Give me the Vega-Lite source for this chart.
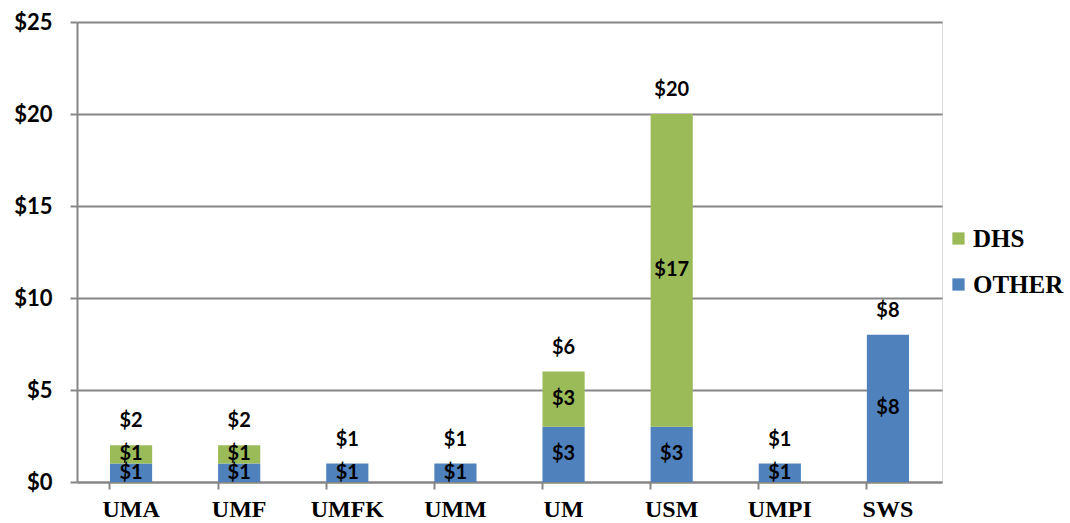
{
  "$schema": "https://vega.github.io/schema/vega-lite/v6.json",
  "width": 865,
  "height": 460,
  "autosize": "none",
  "padding": {"left": 77, "top": 22, "right": 128, "bottom": 41},
  "background": "white",
  "data": {
    "values": [
      {"school": "UMA", "series": "OTHER", "value": 1},
      {"school": "UMA", "series": "DHS", "value": 1},
      {"school": "UMF", "series": "OTHER", "value": 1},
      {"school": "UMF", "series": "DHS", "value": 1},
      {"school": "UMFK", "series": "OTHER", "value": 1},
      {"school": "UMFK", "series": "DHS", "value": 0},
      {"school": "UMM", "series": "OTHER", "value": 1},
      {"school": "UMM", "series": "DHS", "value": 0},
      {"school": "UM", "series": "OTHER", "value": 3},
      {"school": "UM", "series": "DHS", "value": 3},
      {"school": "USM", "series": "OTHER", "value": 3},
      {"school": "USM", "series": "DHS", "value": 17},
      {"school": "UMPI", "series": "OTHER", "value": 1},
      {"school": "UMPI", "series": "DHS", "value": 0},
      {"school": "SWS", "series": "OTHER", "value": 8},
      {"school": "SWS", "series": "DHS", "value": 0}
    ]
  },
  "transform": [
    {"stack": "value", "groupby": ["school"], "sort": [{"field": "series", "order": "descending"}], "as": ["v0", "v1"]},
    {"calculate": "(datum.v0 + datum.v1) / 2", "as": "mid"}
  ],
  "encoding": {
    "x": {
      "field": "school",
      "type": "nominal",
      "sort": null,
      "scale": {"paddingInner": 0.61, "paddingOuter": 0.305},
      "axis": {
        "title": null,
        "labelAngle": 0,
        "labelFont": "Liberation Serif",
        "labelFontWeight": "bold",
        "labelFontSize": 24,
        "labelColor": "black",
        "labelPadding": 8,
        "labelBaseline": "top",
        "bandPosition": 0,
        "tickSize": 7,
        "tickColor": "#868686",
        "tickWidth": 2,
        "domainColor": "#868686",
        "domainWidth": 2,
        "grid": false
      }
    }
  },
  "layer": [
    {
      "mark": {"type": "bar"},
      "encoding": {
        "y": {
          "field": "v0",
          "type": "quantitative",
          "scale": {"domain": [0, 25], "nice": false},
          "axis": {
            "title": null,
            "values": [0, 5, 10, 15, 20, 25],
            "format": "$,.0f",
            "labelFont": "Lato",
            "labelFontWeight": "bold",
            "labelFontSize": 22,
            "labelColor": "black",
            "labelPadding": 18,
            "tickSize": 7,
            "tickColor": "#868686",
            "tickWidth": 2,
            "domainColor": "#868686",
            "domainWidth": 2,
            "grid": true,
            "gridColor": "#868686",
            "gridWidth": 2
          }
        },
        "y2": {"field": "v1"},
        "color": {
          "field": "series",
          "type": "nominal",
          "scale": {"domain": ["DHS", "OTHER"], "range": ["#9BBB59", "#4F81BD"]},
          "legend": {
            "title": null,
            "orient": "none",
            "legendX": 869,
            "legendY": 204,
            "symbolType": "square",
            "symbolSize": 150,
            "symbolStrokeWidth": 0,
            "labelFont": "Liberation Serif",
            "labelFontWeight": "bold",
            "labelFontSize": 25,
            "labelColor": "black",
            "labelOffset": 2,
            "rowPadding": 20
          }
        }
      }
    },
    {
      "transform": [{"filter": "datum.value > 0"}],
      "mark": {"type": "text", "font": "Lato", "fontWeight": "bold", "fontSize": 20, "color": "black", "baseline": "middle"},
      "encoding": {
        "y": {"field": "mid", "type": "quantitative"},
        "text": {"field": "value", "type": "quantitative", "format": "$,.0f"}
      }
    },
    {
      "mark": {"type": "text", "font": "Lato", "fontWeight": "bold", "fontSize": 20, "color": "black", "baseline": "bottom", "dy": -14},
      "encoding": {
        "y": {"field": "value", "aggregate": "sum", "type": "quantitative"},
        "text": {"field": "value", "aggregate": "sum", "type": "quantitative", "format": "$,.0f"}
      }
    }
  ]
}
